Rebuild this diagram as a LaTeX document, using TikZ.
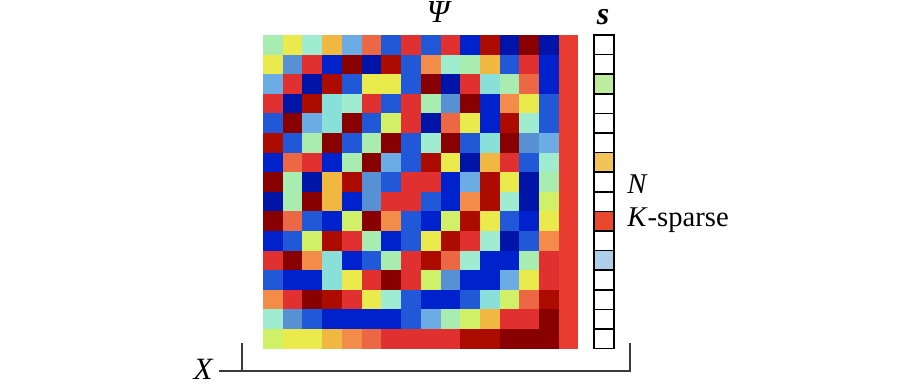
\documentclass[tikz,border=0pt]{standalone}
\usepackage{fontspec}
\setmainfont{Liberation Serif}
\usepackage{xcolor}
\usepackage{tikz}
\usetikzlibrary{positioning,calc}
% palette of the matrix cells
\definecolor{LG}{HTML}{A8ECB0}
\definecolor{YL}{HTML}{EAEA4C}
\definecolor{LY}{HTML}{D0F068}
\definecolor{CA}{HTML}{88E0D8}
\definecolor{CB}{HTML}{A0ECD0}
\definecolor{LB}{HTML}{6CACE4}
\definecolor{MB}{HTML}{5890D4}
\definecolor{BL}{HTML}{2058D8}
\definecolor{DB}{HTML}{0022CC}
\definecolor{NB}{HTML}{0014A8}
\definecolor{RD}{HTML}{E03030}
\definecolor{DR}{HTML}{880000}
\definecolor{BR}{HTML}{AC0C00}
\definecolor{OG}{HTML}{F28C48}
\definecolor{OR}{HTML}{EC6844}
\definecolor{GO}{HTML}{F0B840}
\definecolor{RC}{HTML}{E83C30}
% sparse vector entries
\definecolor{SparseGreen}{HTML}{BDEC9C}
\definecolor{SparseGold}{HTML}{F2C458}
\definecolor{SparseRed}{HTML}{E8482C}
\definecolor{SparseBlue}{HTML}{AECFEA}
\definecolor{BracketGray}{HTML}{3A3A3A}

\begin{document}
\begin{tikzpicture}[x=0.5pt,y=-0.5pt,
    lbl/.style={font=\fontsize{14.3}{16}\selectfont},
    sbox/.style={draw=black,line width=0.75pt}]
  \useasboundingbox (0,0) rectangle (921,387);

  % Psi matrix, 16 rows x 15 columns
  \foreach \rowcols [count=\i from 0] in {
      {LG,YL,CB,GO,LB,OR,BL,RD,BL,RD,DB,BR,NB,DR,NB},
      {YL,MB,RD,DB,DR,NB,BR,BL,OG,CB,LG,GO,BL,RD,DB},
      {LB,RD,NB,BR,BL,YL,YL,BL,DR,NB,RD,CA,LG,OR,DB},
      {RD,NB,BR,CA,CB,RD,BL,RD,LG,MB,DR,DB,OG,YL,BL},
      {BL,DR,LB,CA,DR,BL,LY,RD,NB,OR,YL,DB,BR,CB,BL},
      {BR,BL,LG,DR,BL,LG,DR,BL,CB,DR,BL,CA,DR,MB,LB},
      {DB,OR,RD,DB,LG,DR,LB,BL,BR,YL,NB,GO,RD,BL,CB},
      {DR,LG,NB,GO,BR,MB,BL,RD,RD,DB,LB,BR,YL,NB,LG},
      {NB,LG,DR,GO,DB,MB,RD,RD,BL,DB,OG,BR,CB,NB,LY},
      {DR,OR,BL,DB,LY,DR,OG,BL,DB,LY,BR,YL,BL,DB,YL},
      {DB,BL,LY,BR,RD,LG,DB,BL,YL,BR,RD,CB,NB,BL,OG},
      {RD,DR,OG,CA,DB,BL,LG,RD,BR,OR,CB,DB,DB,LG,RD},
      {BL,DB,DB,CA,YL,RD,DR,RD,LY,MB,DB,DB,LB,YL,RD},
      {OG,RD,DR,BR,RD,YL,CB,BL,DB,DB,BL,CA,LY,OR,BR},
      {CB,MB,BL,DB,DB,DB,DB,BL,LB,LG,LY,GO,RD,RD,DR},
      {LY,YL,YL,GO,OG,OR,RD,RD,RD,RD,BR,BR,DR,DR,DR}} {
    \foreach \c [count=\j from 0] in \rowcols {
      \fill[\c] (263+\j*19.73,35+\i*19.6) rectangle ++(19.9,19.8);
    }
  }
  \fill[RC] (559,35) rectangle (578,349);
  \node[lbl,font=\fontsize{16}{18}\selectfont\itshape] (psi) at (438,12) {Ψ};

  % sparse vector s
  \foreach \k in {0,...,15} {
    \draw[sbox] (594,35+\k*19.6) rectangle ++(20,19.6);
  }
  \foreach \k/\c in {2/SparseGreen,6/SparseGold,9/SparseRed,11/SparseBlue} {
    \filldraw[sbox,fill=\c] (594,35+\k*19.6) rectangle ++(20,19.6);
  }
  \node[lbl,font=\fontsize{16}{18}\selectfont\bfseries\itshape] (s) at (603,17) {s};
  \node[lbl,anchor=base west,inner sep=0pt] (n) at (627,193) {\textit{N}};
  \node[lbl,anchor=base west,inner sep=0pt] (ksparse) at (627,226) {\textit{K}-sparse};

  % bracket for X
  \coordinate (bl) at (219,371);
  \coordinate (br) at (630,371);
  \coordinate (tl) at (242,343);
  \coordinate (tr) at (630,343);
  \draw[BracketGray,line width=0.7pt] (bl) -- (br) -- (tr);
  \draw[BracketGray,line width=0.7pt] (tl) -- (tl |- bl);
  \node[lbl,font=\fontsize{15.5}{17}\selectfont\itshape] (x) at (203,369) {X};
\end{tikzpicture}
\end{document}
